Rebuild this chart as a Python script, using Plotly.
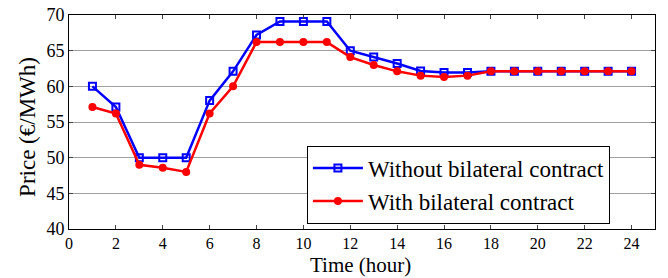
import plotly.graph_objects as go

hours = list(range(1, 25))
without_contract = [60, 57.1, 50, 50, 50, 58, 62.1, 67.2, 69.1, 69.1, 69.1, 65,
                    64.1, 63.2, 62.15, 61.95, 61.95, 62.1, 62.1, 62.1, 62.1, 62.1, 62.1, 62.1]
with_contract = [57.1, 56.2, 49, 48.6, 48, 56.2, 60, 66.2, 66.2, 66.2, 66.2, 64.1,
                 63, 62.1, 61.5, 61.3, 61.5, 62.1, 62.1, 62.1, 62.1, 62.1, 62.1, 62.1]
x_ticks = list(range(0, 26, 2))
y_ticks = list(range(40, 71, 5))
x_title = "Time (hour)"
y_title = "Price (€/MWh)"

font = "Liberation Serif, Times New Roman, serif"

fig = go.Figure()
fig.add_trace(go.Scatter(
    x=hours, y=without_contract, mode="lines+markers",
    name="Without bilateral contract",
    line=dict(color="#0000ff", width=2.5),
    marker=dict(symbol="square-open", size=7, color="#0000ff", line=dict(width=2)),
))
fig.add_trace(go.Scatter(
    x=hours, y=with_contract, mode="lines+markers",
    name="With bilateral contract",
    line=dict(color="#ff0000", width=2.5),
    marker=dict(symbol="circle", size=8, color="#ff0000"),
))

fig.update_layout(
    width=668, height=278,
    margin=dict(l=69, r=13, t=15, b=49),
    paper_bgcolor="white", plot_bgcolor="white",
    font=dict(family=font, size=17, color="black"),
    showlegend=True,
    legend=dict(
        x=0.406, y=0.39, xanchor="left", yanchor="top",
        bgcolor="white", bordercolor="black", borderwidth=1,
        font=dict(family=font, size=23, color="black"),
        tracegroupgap=0, itemwidth=50,
    ),
    annotations=[
        dict(text=x_title, xref="paper", yref="paper", x=0.497, y=-0.166,
             xanchor="center", yanchor="middle", showarrow=False,
             font=dict(family=font, size=21, color="black")),
        dict(text=y_title, xref="paper", yref="paper", x=-0.070, y=0.477,
             xanchor="center", yanchor="middle", showarrow=False, textangle=-90,
             font=dict(family=font, size=23, color="black")),
    ],
)
fig.update_xaxes(
    range=[0, 25], tickvals=x_ticks, ticks="inside", ticklen=4,
    showline=True, linecolor="black", linewidth=1, mirror="ticks",
    showgrid=False, zeroline=False, automargin=False,
    tickfont=dict(family=font, size=16, color="black"),
)
fig.update_yaxes(
    range=[40, 70], tickvals=y_ticks, ticks="inside", ticklen=4,
    showline=True, linecolor="black", linewidth=1, mirror="ticks",
    showgrid=True, gridcolor="#a0a0a0", gridwidth=1, zeroline=False, automargin=False,
    tickfont=dict(family=font, size=18, color="black"),
)

fig.write_html(
    "out.html",
    config={"displayModeBar": False},
    post_script="document.body.style.margin='0';document.body.style.overflow='hidden';",
)
